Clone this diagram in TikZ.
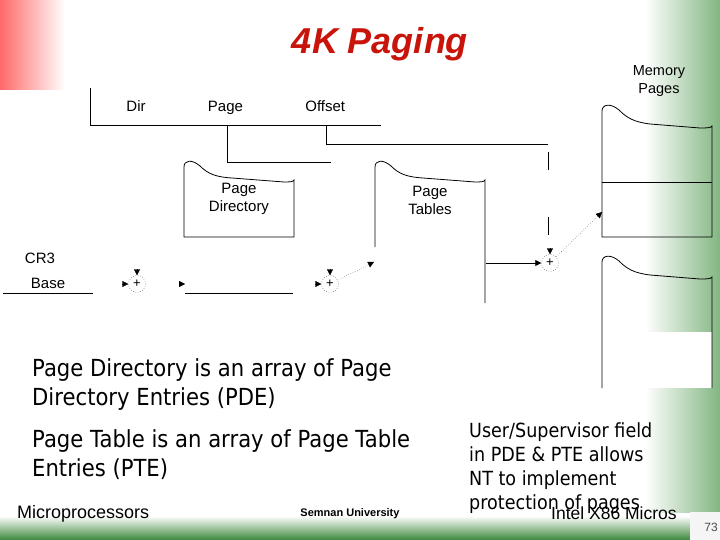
\documentclass[tikz,border=0pt]{standalone}
\usepackage{fontspec}
\setmainfont{Liberation Sans}
\newfontfamily\tahoma{DejaVu Sans}[FakeStretch=0.9]
\usetikzlibrary{positioning,arrows.meta}

\definecolor{titlered}{RGB}{200,20,10}
\definecolor{slidered}{RGB}{255,105,105}
\definecolor{bargreen}{RGB}{130,182,130}
\definecolor{darkgreen}{RGB}{60,135,60}

\begin{document}
\begin{tikzpicture}[x=1pt,y=-1pt]

% Definitions
\tikzstyle{field} = [font=\fontsize{15}{18}\selectfont, align=center, inner sep=0pt]
\tikzstyle{adder} = [circle, dotted, draw=black, minimum size=17pt, inner sep=0pt, font=\fontsize{13}{13}\selectfont]
\tikzstyle{arrow} = [->, >={Triangle[length=6pt,width=6pt]}]
\tikzstyle{dotarrow} = [arrow, dotted]
\tikzstyle{body} = [font=\tahoma\fontsize{23.5}{29}\selectfont, align=left, anchor=north west, inner sep=0pt]
\tikzstyle{footer} = [font=\fontsize{18}{18}\selectfont, inner sep=0pt]

% slide background
\useasboundingbox (0,0) rectangle (720,540);
\fill[white] (0,0) rectangle (720,540);
\shade[left color=slidered, right color=white] (0,0) rectangle (65,90);
\shade[left color=white, right color=bargreen] (645,0) rectangle (720,512);
\shade[top color=white, bottom color=darkgreen] (0,516) rectangle (690,540);
\fill[black!4] (690,512) rectangle (720,540);

\node (title) [font=\bfseries\itshape\fontsize{36}{36}\selectfont, text=titlered] at (380,44) {4K Paging};

% linear address
\node (dir) [field] at (136,106) {Dir};
\node (page) [field, base right=62pt of dir] {Page};
\node (offset) [field, base right=62pt of page] {Offset};
\draw[thick] (90,88) -- (90,125) -- (381,125);
\draw[thick] (227,125) -- (227,162) -- (331,162);
\draw[thick] (326,125) -- (326,144) -- (548,144);
\draw[thick] (548,152) -- (548,170);
\draw[thick] (548,217) -- (548,235);

% page directory and page tables
\draw[thick] (184,237) -- (184,167) .. controls (184,160) and (192,159) .. (200,166) .. controls (208,174) and (216,177) .. (232,178) -- (284,182) .. controls (289,182) and (293,182) .. (294,180) -- (294,237) -- cycle;
\node (pagedir) [field] at (239,199) {Page\\Directory};
\draw[thick] (375,247) -- (375,167) .. controls (375,160) and (383,159) .. (391,166) .. controls (399,174) and (407,177) .. (423,178) -- (475,182) .. controls (480,182) and (484,182) .. (485,180) -- (485,303);
\node (pagetab) [field] at (430,200) {Page\\Tables};

% memory pages
\node (mempages) [field, font=\fontsize{14.5}{18}\selectfont] at (659,81) {Memory\\Pages};
\draw[thick] (602,237) -- (602,111) .. controls (602,104) and (611,103) .. (619,110) .. controls (627,118) and (634,122) .. (650,124) -- (700,128) .. controls (706,128) and (711,128) .. (712,126) -- (712,237) -- cycle;
\draw[thick] (602,182) -- (712,182);
\fill[white] (602,332) rectangle (712,388);
\draw[thick] (602,388) -- (602,262) .. controls (602,255) and (611,254) .. (619,261) .. controls (627,269) and (634,273) .. (650,275) -- (700,279) .. controls (706,279) and (711,279) .. (712,277) -- (712,388);

% CR3
\node (cr3) [field] at (40,258) {CR3};
\node (base) [field] at (48,283) {Base};
\draw[thick] (3,293) -- (93,293);
\draw[thick] (185,293) -- (293,293);

% adders
\node (add1) [adder] at (137,284) {+};
\node (add2) [adder] at (330,284) {+};
\node (add3) [adder] at (550,263) {+};

\coordinate [left=6pt of add1] (in1);
\coordinate [above=6pt of add1] (top1);
\coordinate [left=6pt of add2] (in2);
\coordinate [above=6pt of add2] (top2);
\coordinate [above=6pt of add3] (top3);
\coordinate (pdin) at (185,284);
\coordinate (pdtip) at (179,284);
\coordinate (ptin) at (374,262);
\coordinate (ptout) at (486,263);
\coordinate (mpin) at (602,212);

\draw [arrow] (in1) -- (add1);
\draw [arrow] (top1) -- (add1);
\draw [arrow] (pdtip) -- (pdin);
\draw [arrow] (in2) -- (add2);
\draw [arrow] (top2) -- (add2);
\draw [dotarrow] (add2) -- (ptin);
\draw [arrow, thick] (ptout) -- (add3);
\draw [arrow] (top3) -- (add3);
\draw [dotarrow] (add3) -- (mpin);

% slide text
\node (pdetext) [body] at (32,358) {Page Directory is an array of Page\\Directory Entries (PDE)};
\node (ptetext) [body] at (32,429) {Page Table is an array of Page Table\\Entries (PTE)};
\node (ustext) [body, font=\tahoma\fontsize{19.5}{24}\selectfont] at (469,422) {User/Supervisor field\\in PDE \& PTE allows\\NT to implement\\protection of pages};

% footer
\node (course) [footer, anchor=west] at (17,514) {Microprocessors};
\node (univ) [footer, font=\bfseries\fontsize{11}{11}\selectfont] at (350,514) {Semnan University};
\node (micros) [footer, font=\fontsize{17.5}{18}\selectfont, anchor=west] at (551,513) {Intel X86 Micros};
\node (pagenum) [footer, font=\fontsize{12}{12}\selectfont, text=black!70] at (711,527) {73};

\end{tikzpicture}
\end{document}
